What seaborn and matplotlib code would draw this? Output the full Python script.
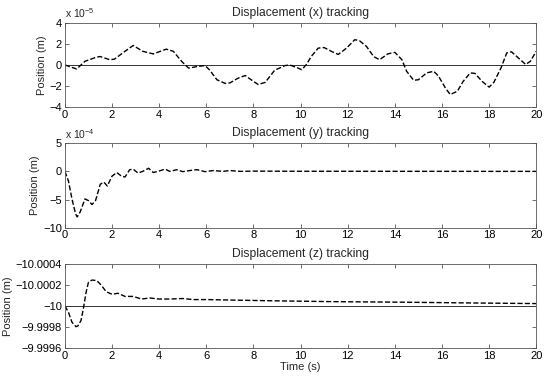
"""
plot.py
-------
Three stacked position-tracking traces (x, y, z) over 20 s, MATLAB look.
"""

import numpy as np
import pandas as pd
import matplotlib
matplotlib.use("Agg")
import matplotlib.pyplot as plt
import seaborn as sns

# ─── Data ────────────────────────────────────────────────────────────────────

# x displacement, units of 1e-5 m
t_x = [0.0, 0.5, 0.85, 1.35, 1.5, 1.9, 2.1, 2.55, 2.9, 3.3, 3.75, 4.3, 4.6,
       4.95, 5.25, 5.6, 5.95, 6.15, 6.45, 6.8, 7.0, 7.35, 7.65, 7.9, 8.2,
       8.5, 8.9, 9.35, 9.55, 9.9, 10.05, 10.25, 10.45, 10.75, 11.0, 11.3,
       11.6, 11.95, 12.3, 12.5, 12.8, 13.1, 13.35, 13.7, 14.0, 14.3, 14.5,
       14.8, 15.0, 15.35, 15.65, 15.85, 16.15, 16.35, 16.65, 16.9, 17.2,
       17.4, 17.7, 18.0, 18.2, 18.5, 18.75, 18.95, 19.25, 19.55, 19.75, 20.0]
pos_x = [0.0, -0.38, 0.35, 0.75, 0.8, 0.5, 0.55, 1.3, 1.85, 1.3, 1.05, 1.5,
         1.3, 0.35, -0.3, -0.15, -0.05, -0.5, -1.4, -1.75, -1.7, -1.25,
         -1.0, -1.4, -1.85, -1.65, -0.5, -0.05, 0.0, -0.3, -0.45, 0.05, 0.8,
         1.6, 1.65, 1.3, 1.0, 1.6, 2.4, 2.3, 1.75, 0.8, 0.5, 1.05, 1.2, 0.5,
         -0.6, -1.45, -1.4, -0.75, -0.6, -1.05, -2.2, -2.8, -2.5, -1.55,
         -0.75, -0.8, -1.55, -2.1, -1.65, -0.3, 1.15, 1.25, 0.65, 0.05, 0.35,
         1.3]

# y displacement, units of 1e-4 m
t_y = [0.0, 0.15, 0.3, 0.45, 0.52, 0.65, 0.85, 1.0, 1.15, 1.3, 1.5, 1.65,
       1.8, 2.0, 2.2, 2.4, 2.55, 2.75, 2.9, 3.1, 3.3, 3.55, 3.75, 3.95,
       4.25, 4.45, 4.75, 5.0, 5.3, 5.6, 5.95, 6.3, 6.7, 7.0, 7.45, 8.0,
       9.0, 10.0, 12.0, 14.0, 16.0, 18.0, 20.0]
pos_y = [0.0, -1.7, -4.9, -7.5, -8.1, -7.2, -4.9, -5.2, -5.9, -5.2, -2.3,
         -1.9, -2.6, -0.85, -0.2, -0.85, -1.0, 0.3, 0.4, -0.3, 0.0, 0.55,
         -0.2, 0.0, 0.4, 0.0, 0.3, -0.05, 0.15, 0.3, -0.05, 0.15, 0.0, 0.15,
         0.0, 0.05, 0.03, 0.02, 0.02, 0.01, 0.01, 0.0, 0.0]

# z displacement: offset from -10 m, units of 1e-4 m
t_z = [0.0, 0.15, 0.3, 0.47, 0.55, 0.68, 0.78, 0.9, 1.0, 1.15, 1.35, 1.55,
       1.75, 2.0, 2.25, 2.55, 2.9, 3.25, 3.6, 4.0, 4.45, 5.0, 5.45, 6.0,
       7.15, 8.9, 11.5, 14.4, 17.2, 20.0]
dz = [0.0, 0.6, 1.55, 1.97, 1.9, 1.4, 0.3, -1.3, -2.25, -2.45, -2.4, -1.95,
      -1.35, -1.1, -1.2, -0.9, -0.9, -0.65, -0.75, -0.65, -0.65, -0.7, -0.6,
      -0.6, -0.55, -0.48, -0.4, -0.35, -0.28, -0.22]
z_ref = -10.0

titles = ["Displacement (x) tracking", "Displacement (y) tracking",
          "Displacement (z) tracking"]
x_ticks = [0, 2, 4, 6, 8, 10, 12, 14, 16, 18, 20]
y_ticks_x = [-4, -2, 0, 2, 4]
y_ticks_y = [-10, -5, 0, 5]
y_ticks_z = [-10.0004, -10.0002, -10.0, -9.9998, -9.9996]
y_labels_z = ["\u221210.0004", "\u221210.0002", "\u221210",
              "\u22129.9998", "\u22129.9996"]

# ─── Style ───────────────────────────────────────────────────────────────────

sns.set_theme(style="ticks", rc={
    "xtick.direction": "in", "ytick.direction": "in",
    "xtick.top": True, "ytick.right": True,
    "xtick.major.size": 3, "ytick.major.size": 3,
    "xtick.major.width": 0.6, "ytick.major.width": 0.6,
    "axes.linewidth": 0.6, "axes.edgecolor": "#555555",
    "xtick.color": "#555555", "ytick.color": "#555555",
    "xtick.labelcolor": "black", "ytick.labelcolor": "black",
    "xtick.labelsize": 8, "ytick.labelsize": 8,
})
plt.rcParams["font.family"] = ["Liberation Sans", "DejaVu Sans"]
plt.rcParams["mathtext.fontset"] = "custom"
plt.rcParams["mathtext.rm"] = "Liberation Sans"
plt.rcParams["mathtext.it"] = "Liberation Sans:italic"

fig = plt.figure(figsize=(5.5, 3.8), dpi=100)
left, width, height = 0.118, 0.857, 0.222
bottoms = [0.718, 0.401, 0.084]
axes = [fig.add_axes([left, b, width, height]) for b in bottoms]

dash = dict(color="black", linestyle="--", linewidth=1.0, dashes=(5, 4))
ref = dict(color="#333333", linewidth=0.7, zorder=1)

# ─── Panel 1: x ──────────────────────────────────────────────────────────────
ax = axes[0]
df = pd.DataFrame({"t": t_x, "p": pos_x})
ax.axhline(0, **ref)
sns.lineplot(data=df, x="t", y="p", ax=ax, **dash)
ax.set_ylim(-4, 4)
ax.set_yticks(y_ticks_x)
ax.text(0, 1.03, r"x 10$^{-5}$", transform=ax.transAxes, fontsize=7.5,
        ha="left", va="bottom")

# ─── Panel 2: y ──────────────────────────────────────────────────────────────
ax = axes[1]
df = pd.DataFrame({"t": t_y, "p": pos_y})
sns.lineplot(data=df, x="t", y="p", ax=ax, **dash)
ax.set_ylim(-10, 5)
ax.set_yticks(y_ticks_y)
ax.text(0, 1.03, r"x 10$^{-4}$", transform=ax.transAxes, fontsize=7.5,
        ha="left", va="bottom")

# ─── Panel 3: z ──────────────────────────────────────────────────────────────
ax = axes[2]
df = pd.DataFrame({"t": t_z, "p": z_ref + np.array(dz) * 1e-4})
ax.axhline(z_ref, **ref)
sns.lineplot(data=df, x="t", y="p", ax=ax, **dash)
ax.set_ylim(-9.9996, -10.0004)
ax.set_yticks(y_ticks_z)
ax.set_yticklabels(y_labels_z)
ax.set_xlabel("Time (s)", fontsize=8, labelpad=1)

for ax, title in zip(axes, titles):
    ax.set_xlim(0, 20)
    ax.set_xticks(x_ticks)
    ax.set_title(title, fontsize=8.7, pad=5)
    ax.set_ylabel("Position (m)", fontsize=8, labelpad=2)
    ax.tick_params(pad=2)
    if ax is not axes[2]:
        ax.set_xlabel("")

fig.savefig("out.png", dpi=100)
plt.close(fig)
